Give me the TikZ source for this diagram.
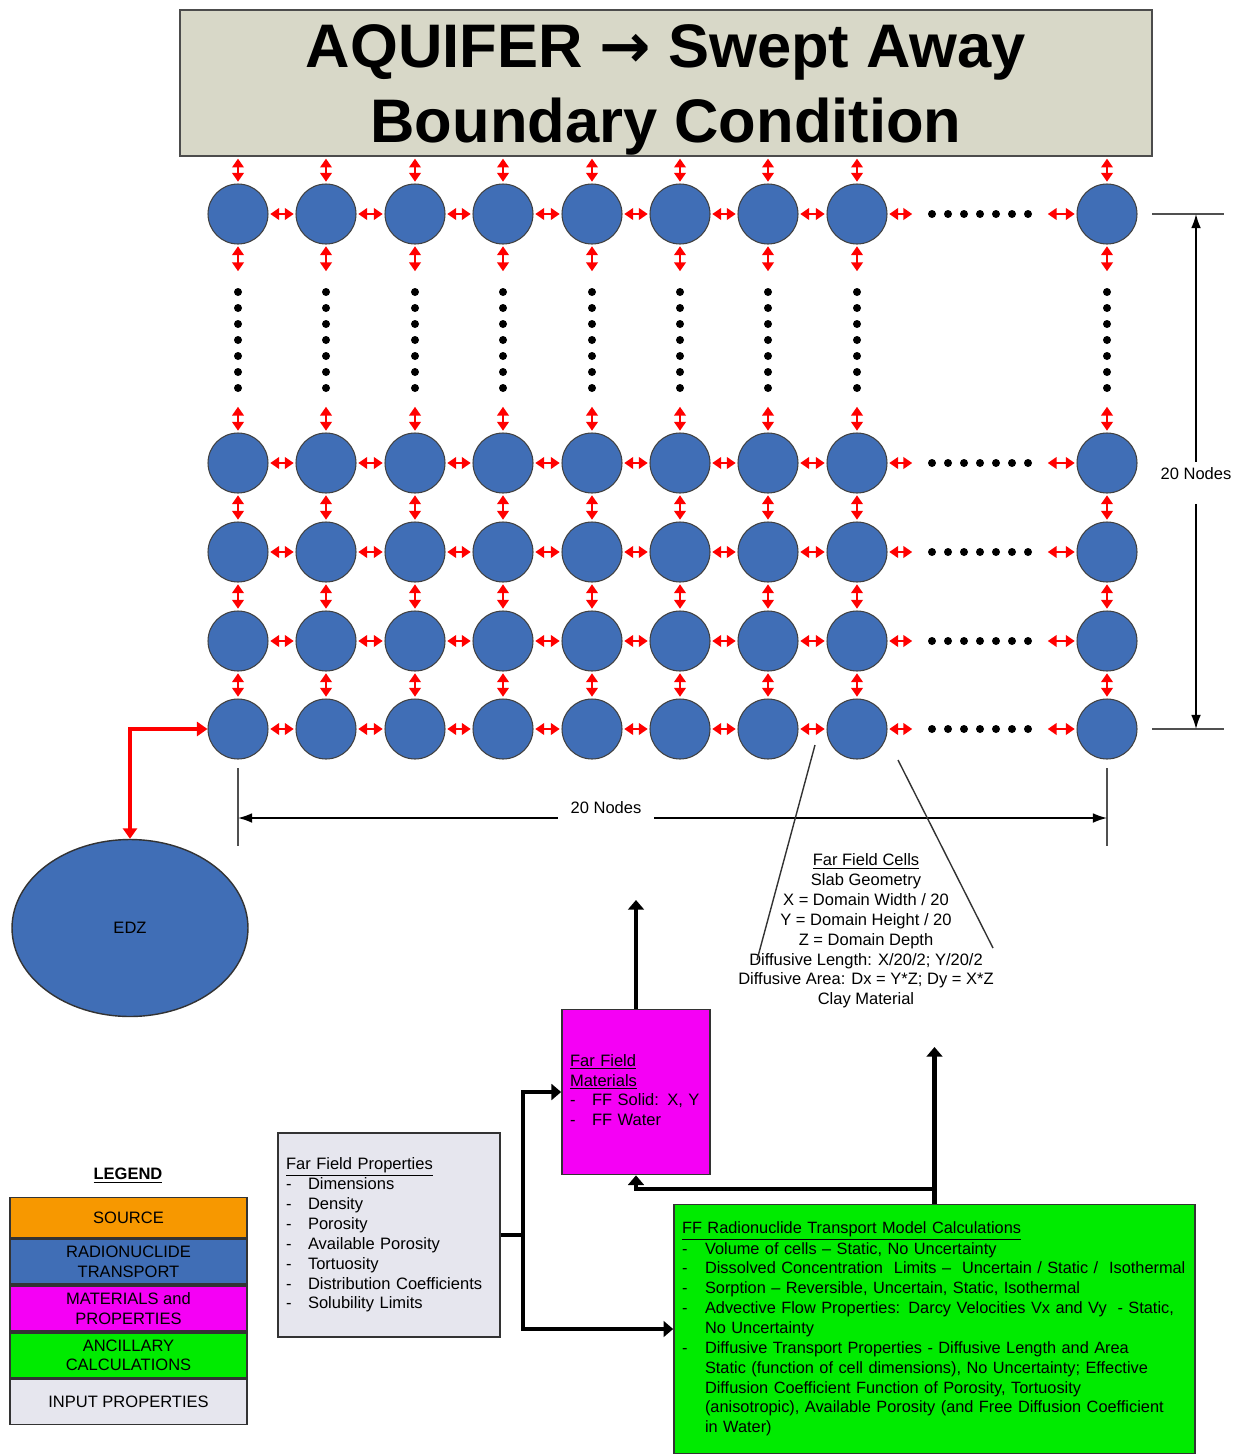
\documentclass[tikz,border=0pt]{standalone}
\usepackage{fontspec}
\setmainfont{Liberation Sans}
\newfontfamily\symfont{DejaVu Sans}
\usepackage{tikz}
\usepackage{xcolor}
\usetikzlibrary{arrows.meta,positioning,calc,shapes.geometric}

\definecolor{cellblue}{RGB}{64,110,182}
\definecolor{titlegray}{RGB}{216,216,200}
\definecolor{inputgray}{RGB}{230,230,238}
\definecolor{matmagenta}{RGB}{245,0,245}
\definecolor{calcgreen}{RGB}{0,235,0}
\definecolor{srcorange}{RGB}{247,152,0}
\definecolor{dimgray}{RGB}{80,80,80}
\newcommand\notefont{\fontsize{9.4}{11.3}\selectfont}

\tikzset{
  cell/.style={circle,draw=black!75,line width=0.6pt,fill=cellblue,minimum size=1.2cm,inner sep=0pt},
  link/.style={red,line width=1.4pt,{Triangle[length=5pt,width=6.5pt]}-{Triangle[length=5pt,width=6.5pt]},shorten <=1pt,shorten >=1pt},
  dimline/.style={dimgray,line width=0.8pt},
  dimarrow/.style={dimline,-{Latex[length=8pt,width=5.5pt]},black},
  flow/.style={line width=2.3pt},
  flowarrow/.style={flow,-{Triangle[length=5.5pt,width=9pt]}},
  panel/.style={draw=black!80,line width=1pt,font=\notefont,align=left,inner xsep=0.16cm,inner ysep=0pt},
  key/.style={draw=black!80,line width=1pt,minimum width=4.74cm,minimum height=0.9cm,font=\notefont,align=center,inner sep=0pt},
}

\begin{document}
\begin{tikzpicture}[x=0.02cm,y=-0.02cm]
\useasboundingbox (0,0) rectangle (1241,1454);

% title
\node[draw=black!70,line width=1pt,fill=titlegray,minimum width=19.44cm,minimum height=2.92cm,align=center,inner ysep=0pt,
  font=\fontsize{35}{42.5}\selectfont\bfseries] (title) at (666,83) {\rule{0pt}{32pt}AQUIFER {\symfont →} Swept Away\\Boundary Condition};

% grid of cells, vertical links and dots
\foreach \col/\x in {1/238,2/326,3/415,4/503,5/592,6/680,7/768,8/857,9/1107}{
  \foreach \row/\y in {1/214,2/463,3/552,4/641,5/729}{
    \node[cell] (c\col r\row) at (\x,\y) {};
  }
  \coordinate (vt\col) at (\x,273);
  \coordinate (vb\col) at (\x,405);
  \draw[link] (title.south -| c\col r1) -- (c\col r1.north);
  \draw[link] (c\col r1.south) -- (vt\col);
  \draw[link] (vb\col) -- (c\col r2.north);
  \foreach \row/\nxt in {2/3,3/4,4/5}{\draw[link] (c\col r\row.south) -- (c\col r\nxt.north);}
  \foreach \y in {292,308,...,388}{\fill (\x,\y) circle (4);}
}

% horizontal links and dots
\foreach \row/\y in {1/214,2/463,3/552,4/641,5/729}{
  \foreach \col/\nxt in {1/2,2/3,3/4,4/5,5/6,6/7,7/8}{\draw[link] (c\col r\row.east) -- (c\nxt r\row.west);}
  \coordinate (hl\row) at (914,\y);
  \coordinate (hr\row) at (1046,\y);
  \draw[link] (c8r\row.east) -- (hl\row);
  \draw[link] (hr\row) -- (c9r\row.west);
  \foreach \x in {932,948,...,1028}{\fill (\x,\y) circle (4);}
}

% dimension, right
\coordinate (rt) at (1196,214);
\coordinate (rb) at (1196,729);
\draw[dimline] (1152,214) -- (1224,214);
\draw[dimline] (1152,729) -- (1224,729);
\node[font=\notefont] (rlab) at (1196,474) {20 Nodes};
\draw[dimarrow] (rlab.north) -- (rt);
\draw[dimarrow] ([yshift=-0.35cm]rlab.south) -- (rb);

% dimension, bottom
\coordinate (bl) at (238,818);
\coordinate (br) at (1107,818);
\draw[dimline] (238,768) -- (238,846);
\draw[dimline] (1107,768) -- (1107,846);
\node[font=\notefont,inner xsep=0.25cm] (blab) at (606,808) {20 Nodes};
\draw[dimarrow] (bl -| blab.west) -- (bl);
\draw[dimarrow] (bl -| blab.east) -- (br);

% EDZ
\node[ellipse,draw=black!80,line width=0.8pt,fill=cellblue,minimum width=4.72cm,minimum height=3.54cm,font=\notefont] (edz) at (130,928) {EDZ};
\draw[red,line width=2.3pt,{Triangle[length=6pt,width=8pt]}-{Triangle[length=6pt,width=8pt]}] (edz.north) |- (c1r5.west);

% far field cells callout
\node[font=\notefont,align=center] (cells) at (866,931) {\underline{Far Field Cells}\\Slab Geometry\\X = Domain Width / 20\\Y = Domain Height / 20\\Z = Domain Depth\\Diffusive Length: X/20/2; Y/20/2\\Diffusive Area: Dx = Y*Z; Dy = X*Z\\Clay Material};
\coordinate (ca) at (815,745);
\coordinate (cb) at (757,960);
\coordinate (cc) at (898,760);
\coordinate (cd) at (993,948);
\draw[black!80,line width=0.8pt] (ca) -- (cb);
\draw[black!80,line width=0.8pt] (cc) -- (cd);

% boxes
\node[panel,fill=matmagenta,text width=2.64cm,minimum height=3.3cm] (mat) at (636,1092) {\begin{tabular}{@{}p{0.44cm}@{}l@{}}
  \multicolumn{2}{@{}l@{}}{\underline{Far Field}}\\
  \multicolumn{2}{@{}l@{}}{\underline{Materials}}\\
  - & FF Solid: X, Y\\
  - & FF Water
  \end{tabular}};
\node[panel,fill=inputgray,text width=4.12cm,minimum height=4.08cm] (props) at (389,1235) {\begin{tabular}{@{}p{0.44cm}@{}l@{}}
  \multicolumn{2}{@{}l@{}}{\underline{Far Field Properties}}\\
  - & Dimensions\\
  - & Density\\
  - & Porosity\\
  - & Available Porosity\\
  - & Tortuosity\\
  - & Distribution Coefficients\\
  - & Solubility Limits
  \end{tabular}};
\node[panel,fill=calcgreen,text width=10.1cm,minimum height=4.98cm,font=\fontsize{9.3}{11.3}\selectfont] (calc) at (934.5,1329) {\begin{tabular}{@{}p{0.46cm}@{}l@{}}
  \multicolumn{2}{@{}l@{}}{\underline{FF Radionuclide Transport Model Calculations}}\\
  - & Volume of cells – Static, No Uncertainty\\
  - & Dissolved Concentration\ \ Limits –\ \ Uncertain / Static /\ \ Isothermal\\
  - & Sorption – Reversible, Uncertain, Static, Isothermal\\
  - & Advective Flow Properties: Darcy Velocities Vx and Vy\ \ - Static,\\
    & No Uncertainty\\
  - & Diffusive Transport Properties - Diffusive Length and Area\\
    & Static (function of cell dimensions), No Uncertainty; Effective\\
    & Diffusion Coefficient Function of Porosity, Tortuosity\\
    & (anisotropic), Available Porosity (and Free Diffusion Coefficient\\
    & in Water)
  \end{tabular}};

% connectors
\coordinate (split) at (523,1235);
\coordinate (join) at (934.5,1189);
\coordinate (matup) at (636,900);
\coordinate (calcup) at (934.5,1047);
\draw[flow] (props.east) -- (split);
\draw[flowarrow] (split) |- (mat.west);
\draw[flowarrow] (split) |- (calc.west);
\draw[flowarrow] (mat.north) -- (matup);
\draw[flow] (calc.north) -- (join);
\draw[flowarrow] (join) -| (mat.south);
\draw[flowarrow] (join) -- (calcup);

% legend
\node[font=\notefont\bfseries] (legend) at (128,1176) {\underline{LEGEND}};
\node[key,fill=srcorange,minimum height=0.8cm] (ksrc) at (128.5,1217.5) {SOURCE};
\node[key,fill=cellblue,below=0cm of ksrc] (krad) {RADIONUCLIDE\\TRANSPORT};
\node[key,fill=matmagenta,below=0cm of krad] (kmat) {MATERIALS and\\PROPERTIES};
\node[key,fill=calcgreen,below=0cm of kmat] (kcalc) {ANCILLARY\\CALCULATIONS};
\node[key,fill=inputgray,below=0cm of kcalc] (kin) {INPUT PROPERTIES};
\end{tikzpicture}
\end{document}
